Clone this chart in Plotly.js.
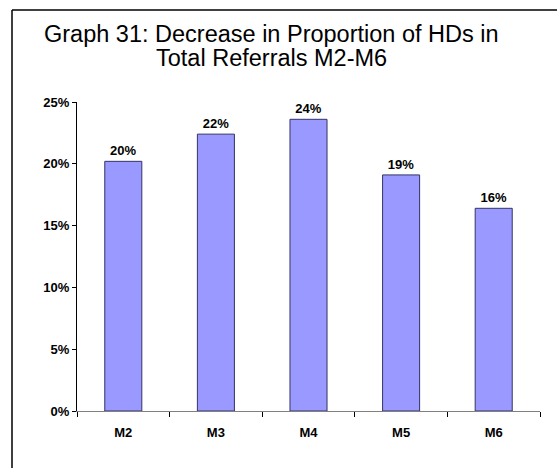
<!DOCTYPE html>
<html>
<head>
<meta charset="utf-8">
<script src="https://cdn.plot.ly/plotly-3.0.1.min.js"></script>
<style>
html,body{margin:0;padding:0;background:#fff;overflow:hidden;}
#chart{width:557px;height:468px;}
</style>
</head>
<body>
<div id="chart"></div>
<script>
var categories = ["M2", "M3", "M4", "M5", "M6"];
var values = [0.202, 0.224, 0.236, 0.191, 0.164];
var valueLabels = ["20%", "22%", "24%", "19%", "16%"];
var yTickVals = [0, 0.05, 0.10, 0.15, 0.20, 0.25];
var yTickText = ["0%", "5%", "10%", "15%", "20%", "25%"];
var titleLines = ["Graph 31: Decrease in Proportion of HDs in", "Total Referrals M2-M6"];

var FONT = "Liberation Sans, Arial, sans-serif";

var trace = {
  type: "bar",
  x: categories,
  y: values,
  text: valueLabels,
  textposition: "outside",
  cliponaxis: false,
  textfont: {family: FONT, size: 13, color: "#000", weight: "bold"},
  marker: {color: "#9999FF", line: {color: "#333366", width: 1}},
  hoverinfo: "none"
};

var plotL = 77, plotR = 540, plotT = 102, plotB = 411;
var pw = plotR - plotL, ph = plotB - plotT;
function px(x) { return (x - plotL) / pw; }
function py(y) { return (plotB - y) / ph; }

var layout = {
  width: 557,
  height: 468,
  margin: {l: plotL, r: 557 - plotR, t: plotT, b: 468 - plotB},
  paper_bgcolor: "#fff",
  plot_bgcolor: "#fff",
  showlegend: false,
  bargap: 0.6,
  xaxis: {
    type: "category",
    range: [-0.5, 4.5],
    showline: true,
    linecolor: "#808080",
    linewidth: 1,
    ticks: "outside",
    tickson: "boundaries",
    ticklen: 5,
    tickcolor: "#000",
    ticklabelstandoff: 9,
    showgrid: false,
    zeroline: false,
    tickfont: {family: FONT, size: 13, color: "#000", weight: "bold"},
    fixedrange: true
  },
  yaxis: {
    range: [0, 0.25],
    tickvals: yTickVals,
    ticktext: yTickText,
    showline: true,
    linecolor: "#000",
    linewidth: 1,
    ticks: "outside",
    ticklen: 4,
    tickcolor: "#000",
    showgrid: false,
    zeroline: false,
    tickfont: {family: FONT, size: 13, color: "#000", weight: "bold"},
    fixedrange: true
  },
  annotations: [
    {text: titleLines[0], xref: "paper", yref: "paper", x: px(271.5), y: py(34),
     xanchor: "center", yanchor: "middle", showarrow: false,
     font: {family: FONT, size: 23.5, color: "#000"}},
    {text: titleLines[1], xref: "paper", yref: "paper", x: px(271.5), y: py(58),
     xanchor: "center", yanchor: "middle", showarrow: false,
     font: {family: FONT, size: 23.5, color: "#000"}}
  ],
  shapes: [
    {type: "line", xref: "paper", yref: "paper",
     x0: px(12), x1: px(558), y0: py(10), y1: py(10),
     line: {color: "#000", width: 1.5}, layer: "below"},
    {type: "line", xref: "paper", yref: "paper",
     x0: px(12), x1: px(12), y0: py(10), y1: py(469),
     line: {color: "#000", width: 1.5}, layer: "below"}
  ]
};

Plotly.newPlot("chart", [trace], layout, {displayModeBar: false, staticPlot: true});
</script>
</body>
</html>
